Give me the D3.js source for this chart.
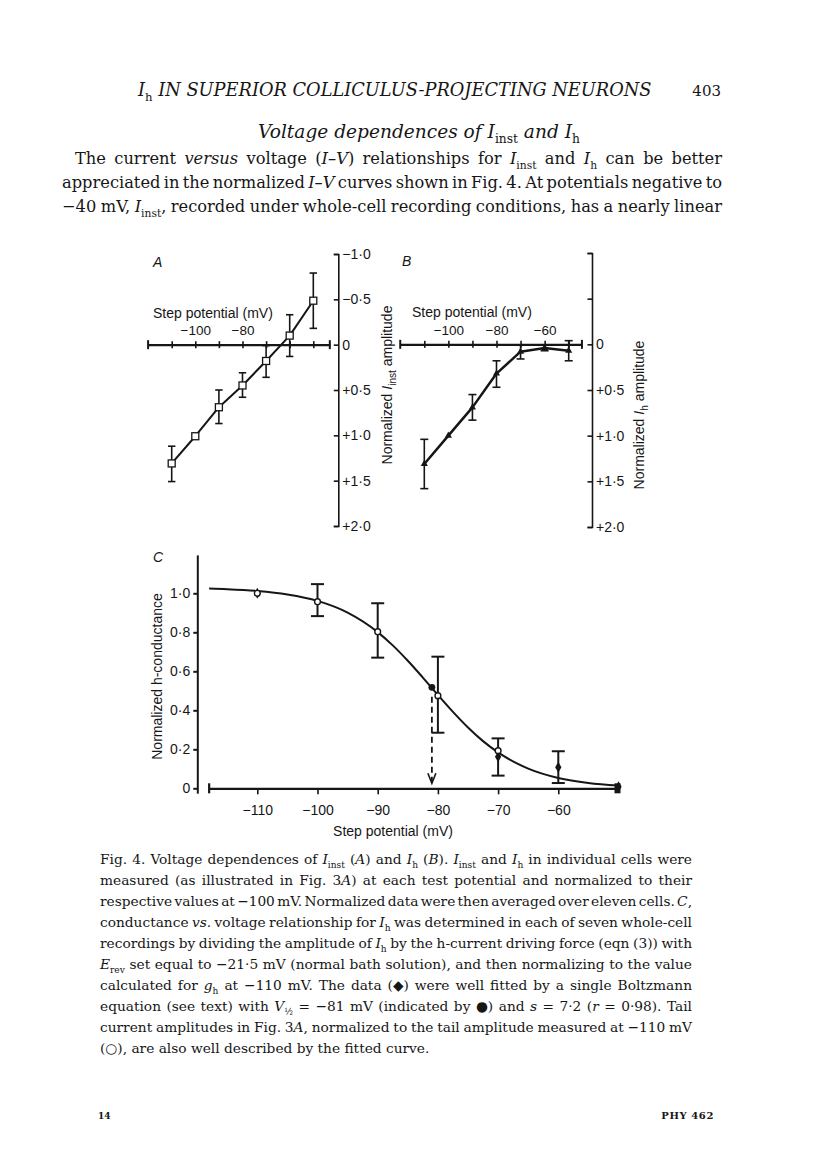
<!DOCTYPE html>
<html><head><meta charset="utf-8">
<script src="https://cdn.jsdelivr.net/npm/d3@7/dist/d3.min.js"></script>
<style>body{margin:0;background:#fff}svg{display:block}</style>
</head><body>
<svg id="page" width="816" height="1160"></svg>
<script>
// ---------------- DATA ----------------
// Panel A: normalized I_inst amplitude vs step potential
const aVolt = [-110, -100, -90, -80, -70, -60, -50];
const aMean = [1.31, 1.01, 0.69, 0.45, 0.18, -0.10, -0.485];
const aLo   = [1.12, null, 0.50, 0.31, 0.01, -0.33, -0.79];
const aHi   = [1.51, null, 0.87, 0.58, 0.36, 0.13, -0.18];
// Panel B: normalized I_h amplitude vs step potential
const bVolt = [-110, -100, -90, -80, -70, -60, -50];
const bMean = [1.31, 1.00, 0.69, 0.32, 0.08, 0.04, 0.07];
const bLo   = [1.04, null, 0.55, 0.18, 0.01, 0.01, -0.04];
const bHi   = [1.58, null, 0.83, 0.47, 0.16, 0.07, 0.18];
// shared axis ticks for A and B
const abXTicks = [-110, -100, -90, -80, -70, -60, -50];
const aXLabels = [-100, -80];
const bXLabels = [-100, -80, -60];
const abYTicks = [-1, -0.5, 0, 0.5, 1, 1.5, 2];
const aYLabels = ["−1·0", "−0·5", "0", "+0·5", "+1·0", "+1·5", "+2·0"];
const bYLabels = ["", "", "0", "+0·5", "+1·0", "+1·5", "+2·0"];
// Panel C: normalized h-conductance
const cXTicks = [-110, -100, -90, -80, -70, -60];
const cYTicks = [0, 0.2, 0.4, 0.6, 0.8, 1.0];
const cYLabels = ["0", "0·2", "0·4", "0·6", "0·8", "1·0"];
const cDataV = [-110, -70, -60, -50];          // filled diamonds
const cDataG = [1.0, 0.162, 0.108, 0.008];
const cTailV = [-110, -100, -90, -80, -70];    // open circles (tail currents)
const cTailG = [1.0, 0.957, 0.803, 0.475, 0.193];
const cErrV  = [-100, -90, -80, -70, -60];
const cErrLo = [0.883, 0.670, 0.285, 0.065, 0.027];
const cErrHi = [1.047, 0.949, 0.675, 0.256, 0.190];
const cHalfV = [-81];                          // filled circle, V1/2
const cHalfG = [0.518];
const cFitV = [-118, -115, -110, -105, -100, -95, -90, -87.5, -85, -82.5, -80, -77.5, -75, -72.5, -70, -65, -60, -55, -50];
const cFitG = [1.024, 1.021, 1.012, 0.994, 0.961, 0.901, 0.801, 0.733, 0.654, 0.568, 0.479, 0.392, 0.312, 0.242, 0.184, 0.101, 0.053, 0.027, 0.014];
const cArrowFrom = 0.47, cArrowTo = 0.026;

// ---------------- SETUP ----------------
const svg = d3.select('#page');
svg.append('rect').attr('width', 816).attr('height', 1160).attr('fill', '#fff');
const INK = '#161616';
const SANS = 'Liberation Sans, Arial, Helvetica, sans-serif';
const SERIF = 'DejaVu Serif, serif';
const minus = d => (d < 0 ? '−' : '') + Math.abs(d);

function styleAxis(g, size) {
  g.attr('font-family', SANS).attr('font-size', size);
  g.selectAll('text').attr('fill', INK);
  g.selectAll('line').attr('stroke', INK);
  g.selectAll('path.domain').attr('stroke', INK);
}

// ---------------- PANEL A / B helper ----------------
function ivPanel(o) {
  const x = d3.scaleLinear().domain([-110, -50]).range(o.xr);
  const y = d3.scaleLinear().domain([-1, 2]).range(o.yr);
  const xAx = x.copy().domain(o.xExt).range(o.xExt.map(x));
  const y0 = y(0);
  const g = svg.append('g');

  // y axis on the right: "]"-shaped, ticks inward
  const ya = g.append('g').attr('transform', `translate(${o.yAxisX},0)`)
    .call(d3.axisRight(y).tickValues(abYTicks).tickSize(-4.5).tickSizeOuter(-4.5).tickPadding(4)
      .tickFormat((d, i) => o.yLabels[i]));
  styleAxis(ya, 14);
  ya.selectAll('path.domain,line').attr('stroke-width', 1.6);

  // x axis: line with crossing ticks and end caps, labels above
  const xa = g.append('g').attr('transform', `translate(0,${y0})`)
    .call(d3.axisTop(xAx).tickValues(abXTicks).tickSize(3.5).tickSizeOuter(0).tickPadding(6)
      .tickFormat(d => o.xLabels.includes(d) ? minus(d) : ''));
  styleAxis(xa, 13.5);
  xa.selectAll('.tick').append('line').attr('y2', 3.5).attr('stroke', INK);
  xa.selectAll('line').attr('stroke-width', 1.6);
  xa.select('path.domain').attr('stroke-width', 2.2);
  o.xExt.forEach(v => xa.append('line').attr('x1', xAx(v)).attr('x2', xAx(v))
    .attr('y1', -4.5).attr('y2', 4.5).attr('stroke', INK).attr('stroke-width', 2));

  g.append('text').attr('x', o.titleX).attr('y', y0 - 27).attr('font-family', SANS)
    .attr('font-size', 14).attr('fill', INK).text('Step potential (mV)');
  g.append('text').attr('x', o.letterX).attr('y', o.letterY).attr('font-family', SANS)
    .attr('font-size', 14).attr('font-style', 'italic').attr('fill', INK).text(o.letter);

  // data line
  const pts = o.volt.map((v, i) => [x(v), y(o.mean[i])]);
  g.append('path').attr('d', d3.line()(pts)).attr('fill', 'none').attr('stroke', INK)
    .attr('stroke-width', o.lw).attr('stroke-linejoin', 'round');
  // error bars
  o.volt.forEach((v, i) => {
    if (o.lo[i] == null) return;
    const xx = x(v), a = y(o.lo[i]), b = y(o.hi[i]);
    g.append('line').attr('x1', xx).attr('x2', xx).attr('y1', a).attr('y2', b)
      .attr('stroke', INK).attr('stroke-width', 1.6);
    [a, b].forEach(yy => g.append('line').attr('x1', xx - o.cap).attr('x2', xx + o.cap)
      .attr('y1', yy).attr('y2', yy).attr('stroke', INK).attr('stroke-width', 1.6));
  });
  // markers
  if (o.marker === 'square') {
    g.selectAll('rect.m').data(pts).join('rect').attr('x', d => d[0] - 3.5).attr('y', d => d[1] - 3.5)
      .attr('width', 7).attr('height', 7).attr('fill', '#fff').attr('stroke', INK).attr('stroke-width', 1.3);
  } else {
    g.selectAll('path.m').data(pts).join('path').attr('transform', d => `translate(${d[0]},${d[1]})`)
      .attr('d', d3.symbol(d3.symbolTriangle, 22)()).attr('fill', INK);
  }
}

ivPanel({ xr: [171.7, 313.3], yr: [254, 526], xExt: [-120, -43], yAxisX: 338.3,
  yLabels: aYLabels, xLabels: aXLabels, volt: aVolt, mean: aMean, lo: aLo, hi: aHi,
  marker: 'square', lw: 2, cap: 3.7, titleX: 153, letter: 'A', letterX: 153, letterY: 267 });
ivPanel({ xr: [424.3, 568.7], yr: [253, 527], xExt: [-120, -44.5], yAxisX: 592,
  yLabels: bYLabels, xLabels: bXLabels, volt: bVolt, mean: bMean, lo: bLo, hi: bHi,
  marker: 'tri', lw: 2.5, cap: 4, titleX: 412, letter: 'B', letterX: 402, letterY: 266 });

// rotated y titles for A and B
function rotTitle(cx, cy, segs, size) {
  const t = svg.append('text').attr('transform', `translate(${cx},${cy}) rotate(-90)`)
    .attr('text-anchor', 'middle').attr('font-family', SANS).attr('font-size', size).attr('fill', INK);
  let shift = 0;
  segs.forEach(([s, type]) => {
    const want = type === 'sub' ? size * 0.3 : 0;
    const ts = t.append('tspan').text(s).attr('dy', want - shift);
    shift = want;
    if (type === 'i') ts.attr('font-style', 'italic');
    if (type === 'sub') ts.attr('font-size', size * 0.72);
  });
}
rotTitle(392, 385, [['Normalized ', 'r'], ['I', 'i'], ['inst', 'sub'], [' amplitude', 'r']], 14);
rotTitle(644, 415, [['Normalized ', 'r'], ['I', 'i'], ['h', 'sub'], [' amplitude', 'r']], 14);

// ---------------- PANEL C ----------------
(function () {
  const x = d3.scaleLinear().domain([-110, -60]).range([257.3, 558.3]);
  const y = d3.scaleLinear().domain([0, 1]).range([788.3, 593.3]);
  const g = svg.append('g');
  const xAx = x.copy().domain([-118, -50]).range([x(-118), x(-50)]);
  const yAx = y.copy().domain([-0.025, 1.197]).range([y(-0.025), y(1.197)]);

  const ya = g.append('g').attr('transform', `translate(197.3,0)`)
    .call(d3.axisLeft(yAx).tickValues(cYTicks).tickSize(4).tickSizeOuter(0).tickPadding(3)
      .tickFormat((d, i) => cYLabels[i]));
  styleAxis(ya, 14);
  ya.selectAll('path.domain,line').attr('stroke-width', 2);

  const xa = g.append('g').attr('transform', `translate(0,${y(0)})`)
    .call(d3.axisBottom(xAx).tickValues(cXTicks).tickSize(6).tickSizeOuter(0).tickPadding(11)
      .tickFormat(minus));
  styleAxis(xa, 14);
  xa.selectAll('line').attr('stroke-width', 1.6);
  xa.select('path.domain').attr('stroke-width', 2.2);
  xa.append('line').attr('x1', xAx(-118)).attr('x2', xAx(-118)).attr('y1', -5).attr('y2', 5)
    .attr('stroke', INK).attr('stroke-width', 2.2);
  xa.append('rect').attr('x', xAx(-50) - 4).attr('y', -5).attr('width', 6).attr('height', 10).attr('fill', INK);

  g.append('text').attr('x', 393).attr('y', 836).attr('text-anchor', 'middle').attr('font-family', SANS)
    .attr('font-size', 14).attr('fill', INK).text('Step potential (mV)');
  g.append('text').attr('transform', 'translate(161.5,676.5) rotate(-90)').attr('text-anchor', 'middle')
    .attr('font-family', SANS).attr('font-size', 14).attr('fill', INK).text('Normalized h-conductance');
  g.append('text').attr('x', 153).attr('y', 562).attr('font-family', SANS).attr('font-size', 14)
    .attr('font-style', 'italic').attr('fill', INK).text('C');

  // fitted Boltzmann curve
  g.append('path').attr('d', d3.line().curve(d3.curveMonotoneX)(cFitV.map((v, i) => [x(v), y(cFitG[i])])))
    .attr('fill', 'none').attr('stroke', INK).attr('stroke-width', 2);

  // error bars
  cErrV.forEach((v, i) => {
    const xx = x(v), a = y(cErrLo[i]), b = y(cErrHi[i]);
    g.append('line').attr('x1', xx).attr('x2', xx).attr('y1', a).attr('y2', b).attr('stroke', INK).attr('stroke-width', 2);
    [a, b].forEach(yy => g.append('line').attr('x1', xx - 6.5).attr('x2', xx + 6.5).attr('y1', yy).attr('y2', yy)
      .attr('stroke', INK).attr('stroke-width', 2));
  });

  // dashed arrow at V1/2
  const ax = x(cHalfV[0]);
  g.append('line').attr('x1', ax).attr('x2', ax).attr('y1', y(cArrowFrom)).attr('y2', y(cArrowTo) - 2)
    .attr('stroke', INK).attr('stroke-width', 1.8).attr('stroke-dasharray', '6,4');
  g.append('path').attr('d', `M${ax - 4},${y(cArrowTo) - 10}L${ax},${y(cArrowTo)}L${ax + 4},${y(cArrowTo) - 10}`)
    .attr('fill', 'none').attr('stroke', INK).attr('stroke-width', 1.6);

  // markers
  g.selectAll('path.dm').data(cDataV).join('path')
    .attr('transform', (v, i) => `translate(${x(v)},${y(cDataG[i])})`)
    .attr('d', d3.symbol(d3.symbolDiamond, 34)()).attr('fill', INK);
  g.selectAll('circle.tl').data(cTailV).join('circle')
    .attr('cx', v => x(v)).attr('cy', (v, i) => y(cTailG[i])).attr('r', 2.9)
    .attr('fill', '#fff').attr('stroke', INK).attr('stroke-width', 1.4);
  g.selectAll('circle.hf').data(cHalfV).join('circle')
    .attr('cx', v => x(v)).attr('cy', (v, i) => y(cHalfG[i])).attr('r', 3.4).attr('fill', INK);
})();

// ---------------- PAGE TEXT ----------------
function makeText(parent, x, y, segs, size, family) {
  const t = parent.append('text').attr('x', x).attr('y', y)
    .attr('font-family', family || SERIF).attr('font-size', size).attr('fill', INK);
  let shift = 0;
  segs.forEach(([s, type]) => {
    const want = type === 'sub' ? size * 0.28 : 0;
    const ts = t.append('tspan').text(s).attr('dy', want - shift);
    shift = want;
    if (type === 'i' || type === 'isub') ts.attr('font-style', 'italic');
    if (type === 'sub') ts.attr('font-size', size * 0.66);
  });
  return t;
}
function spaces(segs) { return segs.reduce((n, [s]) => n + (s.match(/ /g) || []).length, 0); }

function block(lines, base) {
  const probe = svg.append('g');
  const ratios = lines.filter(l => l.just).map(l => {
    const t = makeText(probe, 0, 0, l.segs, base);
    return l.w / t.node().getComputedTextLength();
  });
  probe.remove();
  const k = d3.mean(ratios) * 0.995;
  const size = base * k;
  lines.forEach(l => {
    const t = makeText(svg, l.x, l.y, l.segs, size);
    if (l.just) {
      const w = t.node().getComputedTextLength();
      t.attr('word-spacing', (l.w - w) / spaces(l.segs));
    }
  });
}

// running head
(function () {
  const segs = [['I', 'i'], ['h', 'sub'], ['  IN SUPERIOR COLLICULUS-PROJECTING NEURONS', 'i']];
  const probe = makeText(svg, 0, 0, segs, 16);
  const w = probe.node().getComputedTextLength(); probe.remove();
  makeText(svg, 138, 96, segs, 16 * 514 / w);
  svg.append('text').attr('x', 721).attr('y', 96).attr('text-anchor', 'end').attr('font-family', SERIF)
    .attr('font-size', 15).attr('fill', INK).text('403');
})();

// sub-heading
(function () {
  const segs = [['Voltage dependences of ', 'i'], ['I', 'i'], ['inst', 'sub'], [' and ', 'i'], ['I', 'i'], ['h', 'sub']];
  const probe = makeText(svg, 0, 0, segs, 16);
  const w = probe.node().getComputedTextLength(); probe.remove();
  makeText(svg, 258, 138, segs, 16 * 322 / w);
})();

// body paragraph
block([
  { x: 75, y: 164, w: 647, just: true, segs: [['The current ', 'r'], ['versus', 'i'], [' voltage (', 'r'], ['I–V', 'i'], [') relationships for ', 'r'], ['I', 'i'], ['inst', 'sub'], [' and ', 'r'], ['I', 'i'], ['h', 'sub'], [' can be better', 'r']] },
  { x: 62, y: 188, w: 660, just: true, segs: [['appreciated in the normalized ', 'r'], ['I–V', 'i'], [' curves shown in Fig. 4. At potentials negative to', 'r']] },
  { x: 62, y: 212, w: 660, just: true, segs: [['−40 mV, ', 'r'], ['I', 'i'], ['inst', 'sub'], [', recorded under whole-cell recording conditions, has a nearly linear', 'r']] }
], 15);

// figure caption
const capY = i => 864 + 21 * i;
block([
  { x: 100, y: capY(0), w: 592, just: true, segs: [['Fig. 4. Voltage dependences of ', 'r'], ['I', 'i'], ['inst', 'sub'], [' (', 'r'], ['A', 'i'], [') and ', 'r'], ['I', 'i'], ['h', 'sub'], [' (', 'r'], ['B', 'i'], ['). ', 'r'], ['I', 'i'], ['inst', 'sub'], [' and ', 'r'], ['I', 'i'], ['h', 'sub'], [' in individual cells were', 'r']] },
  { x: 100, y: capY(1), w: 592, just: true, segs: [['measured (as illustrated in Fig. 3', 'r'], ['A', 'i'], [') at each test potential and normalized to their', 'r']] },
  { x: 100, y: capY(2), w: 592, just: true, segs: [['respective values at −100 mV. Normalized data were then averaged over eleven cells. ', 'r'], ['C', 'i'], [',', 'r']] },
  { x: 100, y: capY(3), w: 592, just: true, segs: [['conductance ', 'r'], ['vs.', 'i'], [' voltage relationship for ', 'r'], ['I', 'i'], ['h', 'sub'], [' was determined in each of seven whole-cell', 'r']] },
  { x: 100, y: capY(4), w: 592, just: true, segs: [['recordings by dividing the amplitude of ', 'r'], ['I', 'i'], ['h', 'sub'], [' by the h-current driving force (eqn (3)) with', 'r']] },
  { x: 100, y: capY(5), w: 592, just: true, segs: [['E', 'i'], ['rev', 'sub'], [' set equal to −21·5 mV (normal bath solution), and then normalizing to the value', 'r']] },
  { x: 100, y: capY(6), w: 592, just: true, segs: [['calculated for ', 'r'], ['g', 'i'], ['h', 'sub'], [' at −110 mV. The data (◆) were well fitted by a single Boltzmann', 'r']] },
  { x: 100, y: capY(7), w: 592, just: true, segs: [['equation (see text) with ', 'r'], ['V', 'i'], ['½', 'sub'], [' = −81 mV (indicated by ●) and ', 'r'], ['s', 'i'], [' = 7·2 (', 'r'], ['r', 'i'], [' = 0·98). Tail', 'r']] },
  { x: 100, y: capY(8), w: 592, just: true, segs: [['current amplitudes in Fig. 3', 'r'], ['A', 'i'], [', normalized to the tail amplitude measured at −110 mV', 'r']] },
  { x: 100, y: capY(9), w: 320, just: false, segs: [['(○), are also well described by the fitted curve.', 'r']] }
], 12.5);

// footer
svg.append('text').attr('x', 98).attr('y', 1119).attr('font-family', SERIF).attr('font-weight', 'bold')
  .attr('font-size', 9).attr('fill', INK).text('14');
svg.append('text').attr('x', 714).attr('y', 1119).attr('text-anchor', 'end').attr('font-family', SERIF)
  .attr('font-weight', 'bold').attr('font-size', 10).attr('letter-spacing', 0.6).attr('fill', INK).text('PHY 462');
</script>
</body></html>
